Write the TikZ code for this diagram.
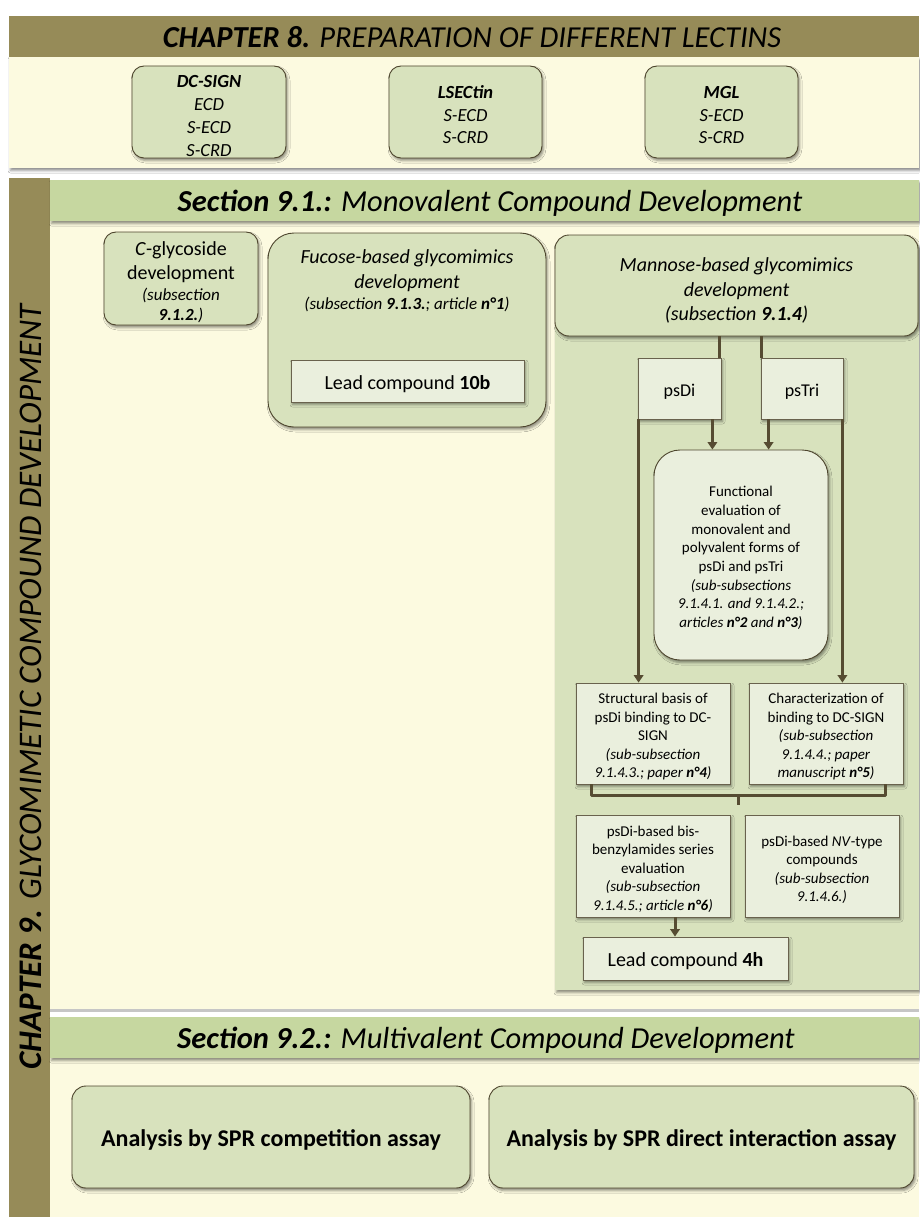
\documentclass[tikz,border=0pt]{standalone}
\usepackage{fontspec}
\setmainfont{Carlito}
\usetikzlibrary{arrows.meta,shadows.blur,calc}

\definecolor{olivebar}{RGB}{150,139,88}
\definecolor{creambg}{RGB}{252,250,224}
\definecolor{secgreen}{RGB}{198,215,160}
\definecolor{boxgreen}{RGB}{216,226,189}
\definecolor{paleinner}{RGB}{234,239,221}
\definecolor{edgebrown}{RGB}{78,70,46}
\definecolor{linkbrown}{RGB}{86,76,50}

\newcommand\setfs[2]{\fontsize{#1}{#2}\selectfont}

\tikzset{
  softshadow/.style={blur shadow={shadow xshift=1.5pt, shadow yshift=-2.5pt,
      shadow blur radius=2.5pt, shadow opacity=45}},
  roundbox/.style={draw=edgebrown, line width=0.9pt, fill=boxgreen,
      rounded corners=#1, inner sep=0pt, softshadow},
  roundbox/.default=12pt,
  plainbox/.style={draw=edgebrown!85, line width=0.8pt, fill=paleinner,
      inner sep=0pt, softshadow},
  boxtext/.style={inner sep=0pt, align=center},
  link/.style={draw=linkbrown, line width=3pt},
  arrowlink/.style={link, -{Triangle[width=9.5pt,length=7.5pt]}},
  bandtext/.style={inner sep=0pt, align=center}
}

\begin{document}
\begin{tikzpicture}[x=1pt,y=-1pt]
\useasboundingbox (0,0) rectangle (919,1217);
\fill[white] (0,0) rectangle (919,1217);

% ---------------- Chapter 8 ----------------
\fill[creambg, softshadow] (9,57) rectangle (919,168);
\fill[olivebar] (9,16) rectangle (919,57);
\node[bandtext, font=\setfs{30.5}{36}] (ch8) at (472,37)
  {\textbf{\textit{CHAPTER 8.}} \textit{PREPARATION OF DIFFERENT LECTINS}};

\node[roundbox, minimum width=154pt, minimum height=92pt] (dcsign) at (209,112) {};
\node[boxtext, font=\setfs{18.5}{23}\itshape] (dcsignT) at ([yshift=-4pt]dcsign.center)
  {\textbf{DC-SIGN}\\ECD\\S-ECD\\S-CRD};
\node[roundbox, minimum width=153pt, minimum height=92pt] (lsectin) at (465.5,112) {};
\node[boxtext, font=\setfs{18.5}{22.5}\itshape] (lsectinT) at ([yshift=-3pt]lsectin.center)
  {\textbf{LSECtin}\\S-ECD\\S-CRD};
\node[roundbox, minimum width=153pt, minimum height=92pt] (mgl) at (721.5,112) {};
\node[boxtext, font=\setfs{18.5}{22.5}\itshape] (mglT) at ([yshift=-3pt]mgl.center)
  {\textbf{MGL}\\S-ECD\\S-CRD};

% ---------------- Chapter 9 frame ----------------
\fill[olivebar] (9,178) rectangle (50,1217);
\fill[creambg] (50,221) rectangle (919,1009);
\fill[secgreen, softshadow] (50,180) rectangle (919,221);
\fill[creambg] (50,1058) rectangle (919,1217);
\fill[secgreen, softshadow] (50,1017) rectangle (919,1058);
\fill[gray!45] (50,1009) rectangle (919,1012);

\node[bandtext, rotate=90, font=\setfs{33}{38}] (ch9) at (31,686)
  {\textbf{\textit{CHAPTER 9.}} \textit{GLYCOMIMETIC COMPOUND DEVELOPMENT}};

\node[bandtext, font=\setfs{30.5}{36}] (sec91) at (490,203)
  {\textbf{\textit{Section 9.1.:}} \textit{Monovalent Compound Development}};
\node[bandtext, font=\setfs{30.5}{36}] (sec92) at (486,1040)
  {\textbf{\textit{Section 9.2.:}} \textit{Multivalent Compound Development}};

% ---------------- Section 9.1 ----------------
\node[roundbox, minimum width=154pt, minimum height=93pt] (cglyco) at (181,278.5) {};
\node[boxtext, font=\setfs{20}{24}] (cglycoT) at ([yshift=-4pt]cglyco.center)
  {\textit{C}-glycoside\\development\\[-3pt]
   {\setfs{17}{19}\itshape (subsection}\\[-4pt]
   {\setfs{17}{19}\itshape\textbf{9.1.2.})}};

\node[roundbox=26pt, minimum width=278pt, minimum height=194pt] (fucose) at (407,330) {};
\node[boxtext, font=\setfs{20}{25}\itshape, anchor=north] (fucoseT) at (407,249)
  {Fucose-based glycomimics\\development\\[-4pt]
   {\setfs{17}{19}(subsection \textbf{9.1.3.}; article \textbf{n°1})}};
\node[plainbox, minimum width=233pt, minimum height=42pt] (lead10b) at (407.5,381) {};
\node[boxtext, font=\setfs{20}{24}] (lead10bT) at ([yshift=-3pt]lead10b.center)
  {Lead compound \textbf{10b}};

% mannose branch
\fill[boxgreen, softshadow] (555,245) rectangle (919,990);
\node[roundbox=14pt, minimum width=363pt, minimum height=101pt] (mannose) at (736.5,285.5) {};
\node[boxtext, font=\setfs{20}{24.5}\itshape] (mannoseT) at ([yshift=-5pt]mannose.center)
  {Mannose-based glycomimics\\development\\(subsection \textbf{9.1.4})};

\node[plainbox, minimum width=83pt, minimum height=61pt] (psdi) at (679.5,388.5) {};
\node[boxtext, font=\setfs{18}{22}] (psdiT) at ([yshift=-3pt]psdi.center) {psDi};
\node[plainbox, minimum width=82pt, minimum height=61pt] (pstri) at (802,388.5) {};
\node[boxtext, font=\setfs{18}{22}] (pstriT) at ([yshift=-3pt]pstri.center) {psTri};

\node[roundbox=26pt, fill=paleinner, minimum width=174pt, minimum height=210pt]
  (func) at (741,555) {};
\node[boxtext, font=\setfs{15}{18.7}] (funcT) at ([yshift=-3pt]func.center)
  {Functional\\evaluation of\\monovalent and\\polyvalent forms of\\psDi and psTri\\
   \textit{(sub-subsections}\\\textit{9.1.4.1. and 9.1.4.2.;}\\
   \textit{articles \textbf{n°2} and \textbf{n°3})}};

\node[plainbox, minimum width=154pt, minimum height=101pt] (struct) at (653,733.5) {};
\node[boxtext, font=\setfs{15}{18.5}] (structT) at ([yshift=-3pt]struct.center)
  {Structural basis of\\psDi binding to DC-\\SIGN\\
   \textit{(sub-subsection}\\\textit{9.1.4.3.; paper \textbf{n°4})}};
\node[plainbox, minimum width=154pt, minimum height=101pt] (charact) at (826,733.5) {};
\node[boxtext, font=\setfs{15}{18.5}] (charactT) at ([yshift=-3pt]charact.center)
  {Characterization of\\binding to DC-SIGN\\
   \textit{(sub-subsection}\\\textit{9.1.4.4.; paper}\\\textit{manuscript \textbf{n°5})}};

\node[plainbox, minimum width=154pt, minimum height=102pt] (bis) at (653,866) {};
\node[boxtext, font=\setfs{15}{18.5}] (bisT) at ([yshift=-3pt]bis.center)
  {psDi-based bis-\\benzylamides series\\evaluation\\
   \textit{(sub-subsection}\\\textit{9.1.4.5.; article \textbf{n°6})}};
\node[plainbox, minimum width=154pt, minimum height=102pt] (nvtype) at (822,866) {};
\node[boxtext, font=\setfs{15}{18.5}] (nvtypeT) at ([yshift=-4pt]nvtype.center)
  {psDi-based \textit{NV}-type\\compounds\\
   \textit{(sub-subsection}\\\textit{9.1.4.6.)}};

\node[plainbox, minimum width=205pt, minimum height=43pt] (lead4h) at (685.5,958.5) {};
\node[boxtext, font=\setfs{20}{24}] (lead4hT) at ([yshift=-3pt]lead4h.center)
  {Lead compound \textbf{4h}};

% connectors of the mannose branch
\draw[link] ([xshift=-2pt]psdi.north east) -- ([xshift=-2pt]psdi.north east |- mannose.south);
\draw[link] ([xshift=1pt]pstri.north west) -- ([xshift=1pt]pstri.north west |- mannose.south);
\draw[arrowlink] ([xshift=1pt]psdi.south west) -- ([xshift=1pt]psdi.south west |- struct.north);
\draw[arrowlink] ([xshift=-9pt]psdi.south east) -- ([xshift=-9pt]psdi.south east |- func.north);
\draw[arrowlink] ([xshift=8pt]pstri.south west) -- ([xshift=8pt]pstri.south west |- func.north);
\draw[arrowlink] ([xshift=-1pt]pstri.south east) -- ([xshift=-1pt]pstri.south east |- charact.north);

\coordinate (joint) at (738,795);
\draw[link, line join=round] ([xshift=16pt]struct.south west) -- ([xshift=16pt]struct.south west |- joint)
  -| ([xshift=-18pt]charact.south east);
\draw[link] (joint) -- ++(0,10);
\draw[arrowlink] ([xshift=22pt]bis.south) -- ([xshift=22pt]bis.south |- lead4h.north);

% ---------------- Section 9.2 ----------------
\node[roundbox=14pt, minimum width=398pt, minimum height=102pt] (sprcomp) at (271,1137) {};
\node[boxtext, font=\setfs{24}{28}\bfseries] (sprcompT) at ([yshift=-3pt]sprcomp.center)
  {Analysis by SPR competition assay};
\node[roundbox=14pt, minimum width=425pt, minimum height=102pt] (sprdirect) at (701.5,1137) {};
\node[boxtext, font=\setfs{24}{28}\bfseries] (sprdirectT) at ([yshift=-3pt]sprdirect.center)
  {Analysis by SPR direct interaction assay};
\end{tikzpicture}
\end{document}
